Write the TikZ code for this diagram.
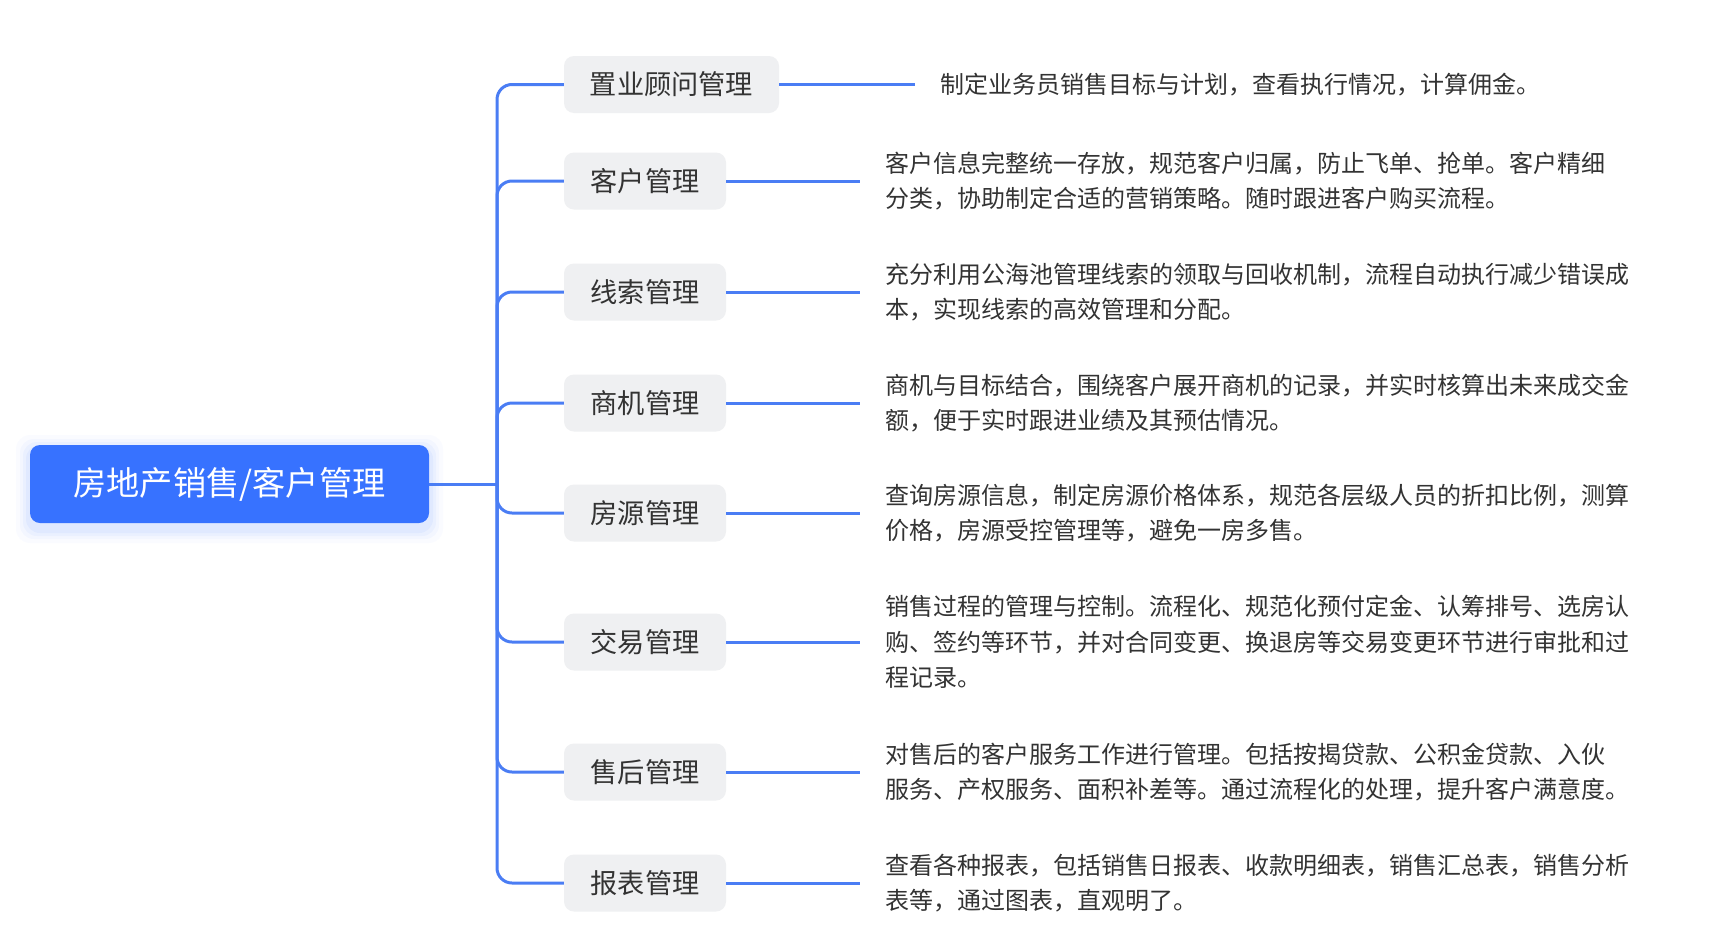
\documentclass[tikz,border=0pt]{standalone}
\usepackage{fontspec}
\setmainfont{Noto Sans CJK SC}
\usetikzlibrary{positioning}
\definecolor{mainblue}{HTML}{3772FF}
\definecolor{lineblue}{HTML}{4A7DF4}
\definecolor{nodegray}{HTML}{EFF0F2}
\definecolor{txt}{HTML}{333333}
\begin{document}
\begin{tikzpicture}[x=1pt,y=-1pt,
  rootbox/.style={fill=mainblue,rounded corners=10pt,minimum width=399pt,minimum height=78pt,inner sep=0pt,text=white,font=\fontsize{33.2}{38}\selectfont},
  subbox/.style={fill=nodegray,rounded corners=10pt,minimum height=57pt,inner sep=0pt,text=txt,font=\fontsize{27.2}{32}\selectfont},
  desc/.style={anchor=west,inner sep=0pt,align=left,text=txt,font=\fontsize{24}{35.5}\selectfont},
  conn/.style={draw=lineblue,line width=3pt},
  branch/.style={conn,rounded corners=15pt},
  link/.style={conn,shorten >=25pt}]
\useasboundingbox (0,0) rectangle (1713,948);
\fill[white] (0,0) rectangle (1713,948);
% soft shadow of root
\foreach \s/\o in {14/0.025,10/0.035,7/0.045,4/0.055}{
  \fill[mainblue,opacity=\o,rounded corners=14pt] (30-\s,449-\s) rectangle (429+\s,529+\s);
}
\node[rootbox] (root) at (229.5,484) {房地产销售/客户管理};

\node[subbox,minimum width=215pt] (c1) at (671.5,84.5) {置业顾问管理};
\node[subbox,minimum width=162pt] (c2) at (645,181) {客户管理};
\node[subbox,minimum width=162pt] (c3) at (645,292) {线索管理};
\node[subbox,minimum width=162pt] (c4) at (645,403) {商机管理};
\node[subbox,minimum width=162pt] (c5) at (645,513) {房源管理};
\node[subbox,minimum width=162pt] (c6) at (645,642) {交易管理};
\node[subbox,minimum width=162pt] (c7) at (645,772) {售后管理};
\node[subbox,minimum width=162pt] (c8) at (645,883) {报表管理};

\node[desc] (d1) at (940,84.5) {制定业务员销售目标与计划，查看执行情况，计算佣金。};
\node[desc] (d2) at (885,181) {客户信息完整统一存放，规范客户归属，防止飞单、抢单。客户精细\\分类，协助制定合适的营销策略。随时跟进客户购买流程。};
\node[desc] (d3) at (885,292) {充分利用公海池管理线索的领取与回收机制，流程自动执行减少错误成\\本，实现线索的高效管理和分配。};
\node[desc] (d4) at (885,403) {商机与目标结合，围绕客户展开商机的记录，并实时核算出未来成交金\\额，便于实时跟进业绩及其预估情况。};
\node[desc] (d5) at (885,513) {查询房源信息，制定房源价格体系，规范各层级人员的折扣比例，测算\\价格，房源受控管理等，避免一房多售。};
\node[desc] (d6) at (885,642) {销售过程的管理与控制。流程化、规范化预付定金、认筹排号、选房认\\购、签约等环节，并对合同变更、换退房等交易变更环节进行审批和过\\程记录。};
\node[desc] (d7) at (885,772) {对售后的客户服务工作进行管理。包括按揭贷款、公积金贷款、入伙\\服务、产权服务、面积补差等。通过流程化的处理，提升客户满意度。};
\node[desc] (d8) at (885,883) {查看各种报表，包括销售日报表、收款明细表，销售汇总表，销售分析\\表等，通过图表，直观明了。};

\coordinate (J) at (497,484);
\draw[conn] (root.east) -- (J);
\foreach \i in {1,...,8}{
  \draw[branch] (J) |- (c\i.west);
  \draw[link] (c\i.east) -- (d\i.west);
}
\end{tikzpicture}
\end{document}
